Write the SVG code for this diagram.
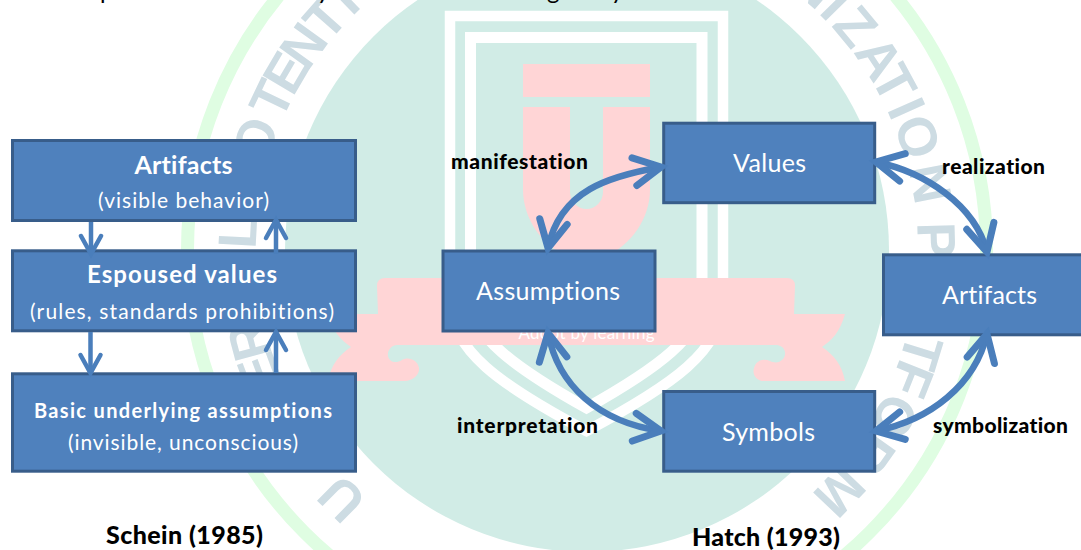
<svg xmlns="http://www.w3.org/2000/svg" xmlns:xlink="http://www.w3.org/1999/xlink" width="1081" height="550" viewBox="0 0 1081 550">
<style>
text{font-variant-ligatures:none}
.box{fill:#4f81bd;stroke:#385d8a;stroke-width:3}
.t{font-family:"Lato","Liberation Sans",sans-serif;fill:#fff;text-anchor:middle}
.b{font-weight:700}
.k{font-family:"Lato","Liberation Sans",sans-serif;fill:#000;font-weight:900;font-size:21px}
.wm{font-family:"Liberation Sans",Arial,sans-serif;font-weight:700;font-size:54px;fill:#cddce3;text-anchor:middle}
.band{fill:none;stroke:#fff}
.arc{fill:none;stroke:#4a7ebb;stroke-width:6.5;marker-start:url(#big);marker-end:url(#big)}
.thin{fill:none;stroke:#4a7ebb;stroke-width:4.5;marker-end:url(#small)}
</style>
<defs>
<marker id="big" markerUnits="userSpaceOnUse" orient="auto-start-reverse" markerWidth="50" markerHeight="50" refX="40" refY="25" viewBox="0 0 50 50"><path d="M13,11 L40,25 L13,39" fill="none" stroke="#4a7ebb" stroke-width="7" stroke-linecap="round" stroke-linejoin="miter"/></marker>
<marker id="small" markerUnits="userSpaceOnUse" orient="auto" markerWidth="40" markerHeight="40" refX="30" refY="20" viewBox="0 0 40 40"><path d="M12,10 L30,20 L12,30" fill="none" stroke="#4a7ebb" stroke-width="4.5" stroke-linecap="round"/></marker>
</defs>
<rect width="1081" height="550" fill="#fff"/>
<g id="watermark">
<circle cx="587" cy="250" r="399.5" fill="none" stroke="#dffde2" stroke-width="13"/>
<circle cx="587" cy="250" r="302" fill="#d1ece6"/>
<g>
<text class="wm" transform="rotate(-135.4 587 250)" x="587" y="-81">U</text>
<text class="wm" transform="rotate(-110.5 587 250)" x="587" y="-81">E</text>
<text class="wm" transform="rotate(-105 587 250)" x="587" y="-81">R</text>
<text class="wm" transform="rotate(-87 587 250)" x="587" y="-81">L</text>
<text class="wm" transform="rotate(-71.5 587 250)" x="587" y="-81">O</text>
<text class="wm" transform="rotate(-64.4 587 250)" x="587" y="-81">T</text>
<text class="wm" transform="rotate(-59.5 587 250)" x="587" y="-81">E</text>
<text class="wm" transform="rotate(-54.2 587 250)" x="587" y="-81">N</text>
<text class="wm" transform="rotate(-48.5 587 250)" x="587" y="-81">T</text>
<text class="wm" transform="rotate(-44 587 250)" x="587" y="-81">I</text>
<text class="wm" transform="rotate(40.7 587 250)" x="587" y="-81">N</text>
<text class="wm" transform="rotate(45.5 587 250)" x="587" y="-81">I</text>
<text class="wm" transform="rotate(50.2 587 250)" x="587" y="-81">Z</text>
<text class="wm" transform="rotate(56.7 587 250)" x="587" y="-81">A</text>
<text class="wm" transform="rotate(61.5 587 250)" x="587" y="-81">T</text>
<text class="wm" transform="rotate(66.1 587 250)" x="587" y="-81">I</text>
<text class="wm" transform="rotate(71.1 587 250)" x="587" y="-81">O</text>
<text class="wm" transform="rotate(79 587 250)" x="587" y="-81">N</text>
<text class="wm" transform="rotate(88.4 587 250)" x="587" y="-81">P</text>
<text class="wm" transform="rotate(107 587 250)" x="587" y="-81">T</text>
<text class="wm" transform="rotate(111.7 587 250)" x="587" y="-81">F</text>
<text class="wm" transform="rotate(118.5 587 250)" x="587" y="-81">O</text>
<text class="wm" transform="rotate(125.5 587 250)" x="587" y="-81">R</text>
<text class="wm" transform="rotate(133.7 587 250)" x="587" y="-81">M</text>
</g>
<path class="band" stroke-width="10.5" d="M450,16 H723 V300 C723,350 673,385 586.5,431 C500,385 450,350 450,300 V16 Z"/>
<path class="band" stroke-width="11" d="M470.5,37.5 H702 V300 C702,335 658,368 586.5,408 C515,368 470.5,335 470.5,300 V37.5 Z"/>
<rect x="523" y="64" width="127" height="33" fill="#ffd5d6"/>
<path fill="#ffd5d6" d="M523,107 H570 V192 A16.5,17 0 0 0 603,192 V107 H650 V190 C650,225 620,260 586,260 C553,260 523,225 523,190 Z"/>
<path fill="#ffd5d6" d="M385,278 H787 Q795,278 795,286 L794,314 H845 C840,332 832,340 822,347 C834,355 842,365 845,381 H764 C756,381 752,374 754,368 C756,360 764,358 770,361 C778,365 786,360 785,352 C784,347 780,345 776,345 H397 C392,345 387,350 388,356 C389,362 396,364 402,360 C408,356 418,360 419,368 C420,375 412,381 405,381 H328 C331,365 339,355 351,347 C341,340 333,332 328,314 H378 L377,286 Q377,278 385,278 Z"/>
<text x="586.5" y="339" font-family="Lato,sans-serif" font-size="17" fill="#fff" text-anchor="middle" textLength="136">Adopt by learning</text>
</g>
<g id="top-line" font-family="Lato,sans-serif" font-size="24" fill="#000">
<text x="100" y="-1">p</text><text x="317" y="-1">y</text><text x="547" y="-1">g</text><text x="611" y="-1">y</text>
</g>
<g id="schein-artifacts"><rect class="box" x="12.5" y="140.5" width="343" height="80"/>
<text class="t b" x="183.5" y="174" font-size="25" textLength="98">Artifacts</text>
<text class="t" x="183.5" y="208" font-size="21" textLength="171">(visible behavior)</text></g>
<g id="schein-espoused"><rect class="box" x="12.5" y="250.8" width="343" height="80"/>
<text class="t b" x="182" y="283" font-size="24" textLength="190">Espoused values</text>
<text class="t" x="182" y="319" font-size="21" textLength="304">(rules, standards  prohibitions)</text></g>
<g id="schein-basic"><rect class="box" x="12.5" y="373.8" width="343" height="97.4"/>
<text class="t b" x="183" y="418" font-size="20" textLength="298">Basic  underlying  assumptions</text>
<text class="t" x="183" y="450" font-size="21" textLength="230">(invisible, unconscious)</text></g>
<g id="hatch-values"><rect class="box" x="663.7" y="123.2" width="211" height="79.5"/>
<text class="t" x="769.5" y="172" font-size="25" textLength="73">Values</text></g>
<g id="hatch-assumptions"><rect class="box" x="443" y="251" width="212" height="80"/>
<text class="t" x="548" y="300" font-size="25" textLength="144">Assumptions</text></g>
<g id="hatch-artifacts"><rect class="box" x="883.5" y="254.8" width="200" height="80"/>
<text class="t" x="989.5" y="304" font-size="25" textLength="95">Artifacts</text></g>
<g id="hatch-symbols"><rect class="box" x="663.7" y="391.5" width="211" height="79.7"/>
<text class="t" x="768.5" y="441" font-size="25" textLength="93">Symbols</text></g>
<g id="connectors">
<path class="thin" d="M91,222 V254"/>
<path class="thin" d="M276,254 V220"/>
<path class="thin" d="M90.5,332 V373"/>
<path class="thin" d="M276,373 V332"/>
<path class="arc" d="M661,167 C610,176 560,190 548,248"/>
<path class="arc" d="M876,162 C925,172 975,205 987,252"/>
<path class="arc" d="M548,333 C558,385 598,422 661,431"/>
<path class="arc" d="M987,334 C975,385 930,420 876,431"/>
</g>
<g id="labels">
<text class="k" x="451" y="169" textLength="137">manifestation</text>
<text class="k" x="942" y="174" textLength="103">realization</text>
<text class="k" x="457" y="433" textLength="141">interpretation</text>
<text class="k" x="933" y="433" textLength="135">symbolization</text>
<text class="k" x="106" y="544" style="font-size:25px" textLength="157">Schein (1985)</text>
<text class="k" x="692" y="546" style="font-size:25px" textLength="148">Hatch (1993)</text>
</g>
</svg>
